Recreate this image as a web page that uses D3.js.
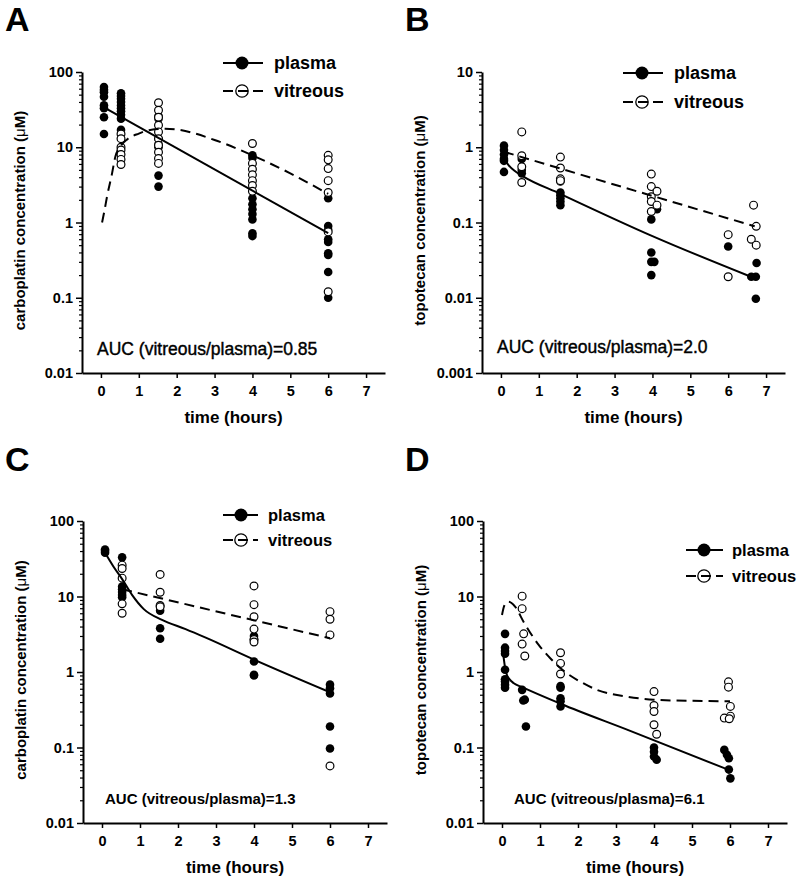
<!DOCTYPE html>
<html>
<head>
<meta charset="utf-8">
<script src="https://cdnjs.cloudflare.com/ajax/libs/d3/7.8.5/d3.min.js"></script>
<style>
  body { margin: 0; background: #fff; }
  svg { display: block; font-family: "Liberation Sans", Arial, Helvetica, sans-serif; }
</style>
</head>
<body>
<div id="chart"></div>
<script>
// ---- tick labels ----
var hourTicks = [0, 1, 2, 3, 4, 5, 6, 7];
var carboTicks = [100, 10, 1, 0.1, 0.01];
var topoTicksB = [10, 1, 0.1, 0.01, 0.001];
var topoTicksD = [100, 10, 1, 0.1, 0.01];

// ---- panel A: carboplatin ----  [time, [values...]]
var aPlasma = [
  [0.08, [63, 58, 54, 47, 36, 33, 25, 15]],
  [0.53, [52, 48, 44, 40, 36, 33, 30, 27, 24, 17]],
  [1.52, [26, 24, 13, 11, 10, 4.2, 3.0]],
  [4.0, [7.8, 7.2, 2.1, 1.75, 1.5, 1.3, 1.1, 0.72, 0.66]],
  [6.0, [2.1, 0.9, 0.8, 0.6, 0.55, 0.39, 0.37, 0.22, 0.1]]
];
var aVitreous = [
  [0.53, [15, 13, 10, 9.2, 8, 6.9, 5.9]],
  [1.52, [39, 31, 25, 19.6, 16, 13, 10.6, 8.6, 7.1, 6.1]],
  [4.0, [11.2, 6.1, 5.1, 4.3, 3.6, 3.1, 2.6]],
  [6.0, [7.8, 6.8, 5.2, 3.6, 2.5, 0.75, 0.12]]
];
var aPlasmaFit = [[0.08, 34], [6, 0.72]];
var aVitreousFit = [[0.03, 1.0], [0.1, 1.5], [0.16, 2.2], [0.29, 4.4], [0.38, 7.5], [0.5, 10],
  [0.7, 12.8], [1, 15.2], [1.3, 17], [1.7, 17.6], [2, 17.2], [3, 12.5], [4, 7.8], [5, 4.5], [6, 2.4]];

// ---- panel B: topotecan ----
var bPlasma = [
  [0.08, [1.05, 0.92, 0.8, 0.7, 0.66, 0.47]],
  [0.55, [0.7, 0.5, 0.45]],
  [1.57, [0.35, 0.25, 0.23, 0.21, 0.19, 0.17]],
  [3.97, [0.11, 0.04, 0.03, 0.02]],
  [4.05, [0.03]],
  [4.12, [0.15]],
  [6.0, [0.048]],
  [6.61, [0.019]],
  [6.73, [0.019, 0.0097]],
  [6.75, [0.029]]
];
var bVitreous = [
  [0.55, [1.6, 0.77, 0.55, 0.34]],
  [1.57, [0.74, 0.53, 0.38, 0.36]],
  [3.97, [0.44, 0.3, 0.22, 0.19, 0.14]],
  [4.12, [0.26, 0.17]],
  [6.0, [0.069, 0.019]],
  [6.67, [0.17]],
  [6.61, [0.06]],
  [6.74, [0.089, 0.05]]
];
var bPlasmaFit = [[0.1, 0.68], [0.2, 0.58], [0.35, 0.49], [0.55, 0.42], [1.57, 0.24], [4, 0.066], [6.65, 0.0186]];
var bVitreousFit = [[0.08, 0.87], [6.7, 0.089]];

// ---- panel C: carboplatin ----
var cPlasma = [
  [0.08, [42, 40, 38]],
  [0.53, [33, 13.5, 12.5, 11.5, 10.5, 9.8]],
  [1.53, [6.5, 3.8, 2.76]],
  [4.0, [3.0, 2.7, 1.38, 0.92, 0.9]],
  [6.0, [0.68, 0.61, 0.52, 0.19, 0.097]]
];
var cVitreous = [
  [0.53, [26, 23.5, 17.5, 8, 6]],
  [1.53, [19.6, 11.4, 7.6, 7.3]],
  [4.0, [13.8, 7.8, 5.4, 3.7, 2.7, 2.5]],
  [6.0, [6.3, 5.0, 3.1, 0.057]]
];
var cPlasmaFit = [[0.08, 38], [0.3, 25], [0.53, 17], [0.79, 10.5], [1.1, 6.8], [1.58, 4.9],
  [2.2, 3.7], [2.73, 2.85], [4, 1.46], [6, 0.54]];
var cVitreousFit = [[0.53, 12.5], [6, 2.8]];

// ---- panel D: topotecan ----
var dPlasma = [
  [0.08, [3.2, 2.1, 1.9, 1.75, 1.07, 0.8, 0.75, 0.68, 0.62]],
  [0.53, [0.58]],
  [0.56, [0.42]],
  [0.6, [0.43]],
  [0.63, [0.19]],
  [1.54, [0.65, 0.62, 0.45, 0.41, 0.35]],
  [4.0, [0.1, 0.088, 0.076]],
  [4.07, [0.069]],
  [5.85, [0.093]],
  [5.92, [0.08]],
  [5.97, [0.072, 0.051]],
  [6.01, [0.039]]
];
var dVitreous = [
  [0.53, [10.1, 6.9, 2.34]],
  [0.57, [3.2]],
  [0.6, [1.63]],
  [1.54, [1.8, 1.3, 0.94]],
  [4.0, [0.55, 0.36, 0.3, 0.2]],
  [4.07, [0.15]],
  [5.96, [0.74, 0.63]],
  [6.01, [0.35, 0.26]],
  [5.85, [0.245]],
  [5.98, [0.24]]
];
var dPlasmaFit = [[0.04, 1.6], [0.08, 1.15], [0.13, 0.91], [0.2, 0.8], [0.31, 0.71], [0.53, 0.63],
  [1.54, 0.38], [3.39, 0.165], [5.9, 0.052]];
var dVitreousFit = [[0.0, 5.7], [0.05, 7.3], [0.1, 8.2], [0.17, 8.5], [0.25, 8.2], [0.35, 7.3],
  [0.57, 4.6], [0.97, 2.27], [1.27, 1.52], [1.71, 0.96], [2.07, 0.74], [2.5, 0.58],
  [3.3, 0.47], [4, 0.43], [5, 0.415], [6, 0.41]];

var width = 800, height = 881;
var svg = d3.select('#chart').append('svg')
    .attr('width', width)
    .attr('height', height);

function flatten(groups) {   // [t,[v..]] -> [{t,v}]
  var out = [];
  groups.forEach(function (g) { g[1].forEach(function (v) { out.push({ t: g[0], v: v }); }); });
  return out;
}

function drawPanel(p) {
  var x = d3.scaleLinear().domain([-0.5, 7.5]).range([p.left, p.right]);
  var y = d3.scaleLog().domain(p.yDomain).range([p.bottom, p.top]);
  var g = svg.append('g');

  g.append('text')
      .attr('x', p.letterX).attr('y', p.letterY)
      .attr('font-size', 34).attr('font-weight', 'bold')
      .text(p.letter);

  // log minor ticks
  var minor = [];
  for (var d = p.yDomain[0]; d < p.yDomain[1] * 0.99; d *= 10) {
    for (var k = 2; k <= 9; k++) minor.push(d * k);
  }
  g.append('g')
      .attr('transform', 'translate(' + p.left + ',0)')
      .call(d3.axisLeft(y).tickValues(minor).tickSize(3).tickSizeOuter(0).tickFormat(''))
      .call(function (a) { a.select('.domain').remove(); a.selectAll('line').attr('stroke-width', 1.2); });

  var yAxis = g.append('g')
      .attr('transform', 'translate(' + p.left + ',0)')
      .call(d3.axisLeft(y).tickValues(p.yTicks).tickSize(6).tickSizeOuter(0).tickPadding(3)
        .tickFormat(function (v) { return String(v); }));
  yAxis.attr('font-family', null).attr('font-size', 14.5).attr('font-weight', 'bold');
  yAxis.select('.domain').attr('stroke-width', 2);
  yAxis.selectAll('.tick line').attr('stroke-width', 1.5);

  var xAxis = g.append('g')
      .attr('transform', 'translate(0,' + p.bottom + ')')
      .call(d3.axisBottom(x).tickValues(hourTicks).tickSize(5).tickSizeOuter(0).tickPadding(8));
  xAxis.attr('font-family', null).attr('font-size', 14.5).attr('font-weight', 'bold');
  xAxis.select('.domain').attr('stroke-width', 2);
  xAxis.selectAll('.tick line').attr('stroke-width', 1.5);

  // axis titles
  g.append('text')
      .attr('x', (p.left + p.right) / 2).attr('y', p.bottom + 50)
      .attr('text-anchor', 'middle').attr('font-size', 17).attr('font-weight', 'bold')
      .text('time (hours)');
  var yt = g.append('text')
      .attr('transform', 'translate(' + (p.left - 57) + ',' + ((p.top + p.bottom) / 2 - 2) + ') rotate(-90)')
      .attr('text-anchor', 'middle').attr('font-size', 15).attr('font-weight', 'bold');
  yt.append('tspan').text(p.yTitle + ' (');
  yt.append('tspan').attr('font-weight', 'normal').text('μ');
  yt.append('tspan').text('M)');

  // markers
  g.append('g').selectAll('circle')
      .data(flatten(p.plasma))
      .join('circle')
        .attr('cx', function (d) { return x(d.t); })
        .attr('cy', function (d) { return y(d.v); })
        .attr('r', 4.3)
        .attr('fill', '#000');
  g.append('g').selectAll('circle')
      .data(flatten(p.vitreous))
      .join('circle')
        .attr('cx', function (d) { return x(d.t); })
        .attr('cy', function (d) { return y(d.v); })
        .attr('r', 3.9)
        .attr('fill', '#fff')
        .attr('stroke', '#000')
        .attr('stroke-width', 1.2);

  // fitted curves
  var line = d3.line()
      .x(function (d) { return x(d[0]); })
      .y(function (d) { return y(d[1]); })
      .curve(d3.curveMonotoneX);
  g.append('path').attr('d', line(p.plasmaFit))
      .attr('fill', 'none').attr('stroke', '#000').attr('stroke-width', 2);
  g.append('path').attr('d', line(p.vitreousFit))
      .attr('fill', 'none').attr('stroke', '#000').attr('stroke-width', 2)
      .attr('stroke-dasharray', '10,6');

  // legend
  var L = p.legend;
  g.append('line').attr('x1', L.x1).attr('x2', L.x2).attr('y1', L.y1).attr('y2', L.y1)
      .attr('stroke', '#000').attr('stroke-width', 2);
  g.append('circle').attr('cx', L.mx).attr('cy', L.y1).attr('r', 6.5).attr('fill', '#000');
  g.append('circle').attr('cx', L.mx).attr('cy', L.y2).attr('r', 6.2)
      .attr('fill', '#fff').attr('stroke', '#000').attr('stroke-width', 1.3);
  g.append('line').attr('x1', L.x1).attr('x2', L.x2).attr('y1', L.y2).attr('y2', L.y2)
      .attr('stroke', '#000').attr('stroke-width', 2).attr('stroke-dasharray', '10,5');
  g.append('text').attr('x', L.tx).attr('y', L.y1).attr('dy', '0.35em')
      .attr('font-size', L.fs).attr('font-weight', 'bold').text('plasma');
  g.append('text').attr('x', L.tx).attr('y', L.y2).attr('dy', '0.35em')
      .attr('font-size', L.fs).attr('font-weight', 'bold').text('vitreous');

  // AUC note
  var auc = g.append('text').attr('x', p.auc.x).attr('y', p.auc.y)
      .attr('font-size', p.auc.fs).attr('font-weight', p.auc.weight)
      .text(p.auc.text);
  if (p.auc.weight === 'normal') auc.attr('stroke', '#000').attr('stroke-width', 0.4);
}

drawPanel({
  letter: 'A', letterX: 5, letterY: 31,
  left: 82, right: 385, top: 72, bottom: 373,
  yDomain: [0.01, 100], yTicks: carboTicks, yTitle: 'carboplatin concentration',
  plasma: aPlasma, vitreous: aVitreous, plasmaFit: aPlasmaFit, vitreousFit: aVitreousFit,
  legend: { x1: 223, x2: 263, mx: 242, tx: 274, y1: 63, y2: 91, fs: 18 },
  auc: { text: 'AUC (vitreous/plasma)=0.85', x: 97, y: 355, fs: 17.5, weight: 'normal' }
});
drawPanel({
  letter: 'B', letterX: 405, letterY: 31,
  left: 482, right: 785, top: 72, bottom: 373,
  yDomain: [0.001, 10], yTicks: topoTicksB, yTitle: 'topotecan concentration',
  plasma: bPlasma, vitreous: bVitreous, plasmaFit: bPlasmaFit, vitreousFit: bVitreousFit,
  legend: { x1: 623, x2: 663, mx: 642, tx: 674, y1: 73, y2: 102, fs: 18 },
  auc: { text: 'AUC (vitreous/plasma)=2.0', x: 497, y: 353, fs: 17.5, weight: 'normal' }
});
drawPanel({
  letter: 'C', letterX: 5, letterY: 471,
  left: 83, right: 387, top: 521, bottom: 823,
  yDomain: [0.01, 100], yTicks: carboTicks, yTitle: 'carboplatin concentration',
  plasma: cPlasma, vitreous: cVitreous, plasmaFit: cPlasmaFit, vitreousFit: cVitreousFit,
  legend: { x1: 223, x2: 258, mx: 241, tx: 268, y1: 515, y2: 540, fs: 16.5 },
  auc: { text: 'AUC (vitreous/plasma)=1.3', x: 105, y: 804, fs: 15, weight: 'bold' }
});
drawPanel({
  letter: 'D', letterX: 405, letterY: 471,
  left: 483, right: 787, top: 521, bottom: 823,
  yDomain: [0.01, 100], yTicks: topoTicksD, yTitle: 'topotecan concentration',
  plasma: dPlasma, vitreous: dVitreous, plasmaFit: dPlasmaFit, vitreousFit: dVitreousFit,
  legend: { x1: 686, x2: 723, mx: 704, tx: 732, y1: 550, y2: 576, fs: 16.5 },
  auc: { text: 'AUC (vitreous/plasma)=6.1', x: 514, y: 804, fs: 15, weight: 'bold' }
});
</script>
</body>
</html>
